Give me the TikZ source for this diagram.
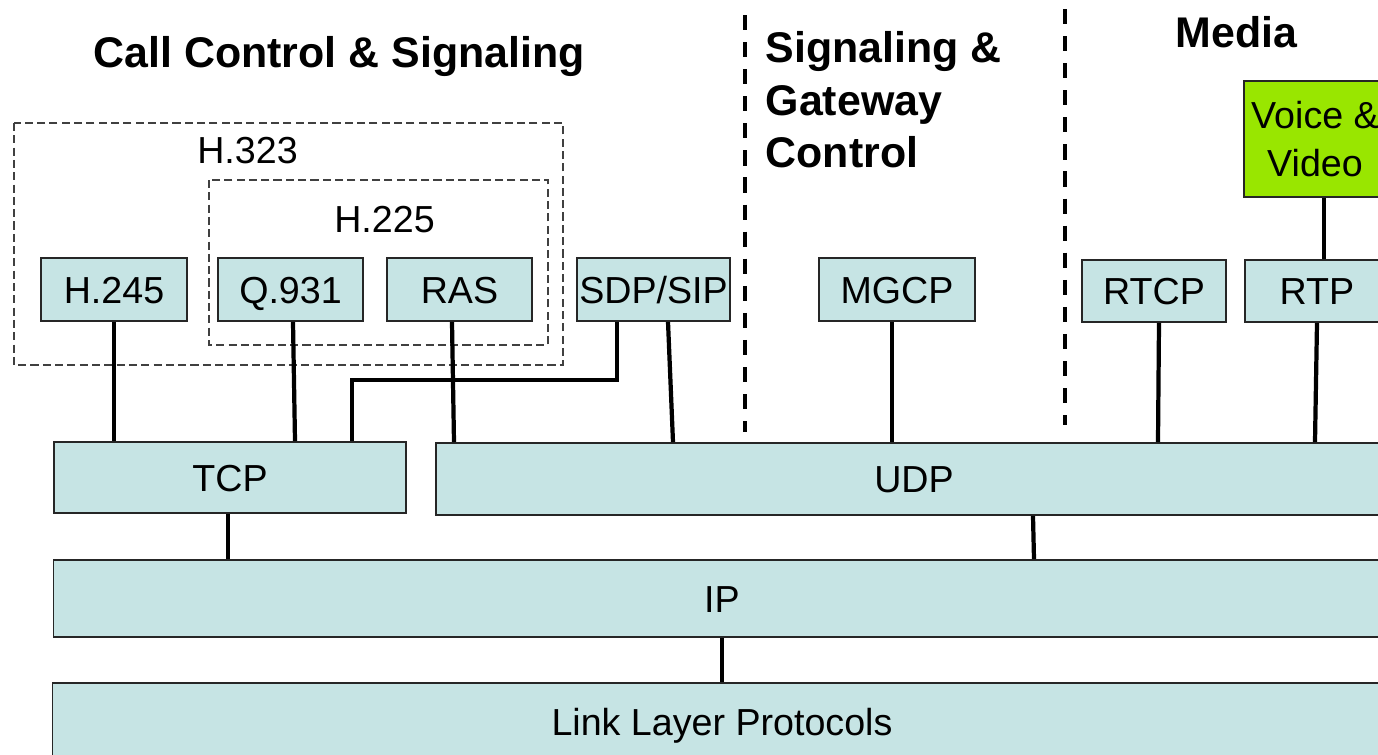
\documentclass[tikz,border=0pt]{standalone}
\usepackage{fontspec}
\setmainfont{Liberation Sans}
\usetikzlibrary{calc}
\definecolor{protofill}{RGB}{198,228,228}
\definecolor{mediagreen}{RGB}{153,230,0}
\tikzset{
  proto/.style={draw=black!85, fill=protofill, line width=0.5pt, inner sep=0pt,
    font=\fontsize{10.7}{12.8}\selectfont, text height=0.27cm, text depth=0cm},
  media/.style={draw=black!85, fill=mediagreen, line width=0.5pt, inner sep=0pt,
    font=\fontsize{10.7}{13.4}\selectfont, align=center},
  group/.style={draw=black!75, line width=0.45pt, dash pattern=on 2.3pt off 1.2pt},
  divider/.style={line width=1.1pt, dash pattern=on 4.3pt off 3.4pt},
  link/.style={line width=1.2pt},
  head/.style={font=\fontsize{12.2}{14.9}\selectfont\bfseries, inner sep=0pt, align=left},
  grouplabel/.style={font=\fontsize{10.7}{12.8}\selectfont, inner sep=0pt}
}

\begin{document}
\begin{tikzpicture}[x=0.01cm,y=-0.01cm]
\useasboundingbox (0,0) rectangle (1378,754);
\clip (0,0) rectangle (1378,754);

% groups and dividers
\draw[group] (14,123) rectangle (563,365);
\draw[group] (209,180) rectangle (548,345);
\node[grouplabel, anchor=base] (h323) at (247.5,163) {H.323};
\node[grouplabel, anchor=base] (h225) at (384.5,232) {H.225};
\draw[divider] (745,15) -- (745,432);
\draw[divider] (1065,9) -- (1065,425);

% headings
\node[head, anchor=base west] (callhead) at (93,67) {Call Control \& Signaling};
\node[head, anchor=north west] (gwhead) at (765,31) {Signaling \&\\Gateway\\Control};
\node[head, anchor=base west] (mediahead) at (1175,47) {Media};

% protocols
\node[proto, minimum width=1.46cm, minimum height=0.63cm] (h245) at (114,289.5) {H.245};
\node[proto, minimum width=1.45cm, minimum height=0.63cm] (q931) at (290.5,289.5) {Q.931};
\node[proto, minimum width=1.45cm, minimum height=0.63cm] (ras) at (459.5,289.5) {RAS};
\node[proto, minimum width=1.53cm, minimum height=0.63cm] (sdp) at (653.5,289.5) {SDP/SIP};
\node[proto, minimum width=1.56cm, minimum height=0.63cm] (mgcp) at (897,289.5) {MGCP};
\node[proto, minimum width=1.44cm, minimum height=0.62cm] (rtcp) at (1154,291) {RTCP};
\node[proto, minimum width=1.44cm, minimum height=0.62cm] (rtp) at (1317,291) {RTP};
\node[media, minimum width=1.42cm, minimum height=1.16cm] (av) at (1315,139) {Voice \&\\Video};

\node[proto, minimum width=3.52cm, minimum height=0.71cm] (tcp) at (230,477.5) {TCP};
\node[proto, minimum width=9.56cm, minimum height=0.72cm] (udp) at (914,479) {UDP};
\node[proto, minimum width=13.36cm, minimum height=0.77cm] (ip) at (722,598.5) {IP};
\node[proto, minimum width=13.38cm, minimum height=0.77cm] (linkl) at (722,721.5) {Link Layer Protocols};

% connectors
\coordinate (sdpbend) at (352,380);
\draw[link] (h245.south) -- (h245.south |- tcp.north);
\draw[link] ($(q931.south)+(2.5,0)$) -- ($(q931.south |- tcp.north)+(4.5,0)$);
\draw[link] ($(ras.south)+(-7.5,0)$) -- ($(ras.south |- udp.north)+(-5.5,0)$);
\draw[link] ($(sdp.south)+(-36.5,0)$) |- (sdpbend) -- (sdpbend |- tcp.north);
\draw[link] ($(sdp.south)+(14.5,0)$) -- ($(sdp.south |- udp.north)+(19.5,0)$);
\draw[link] ($(mgcp.south)+(-5,0)$) -- ($(mgcp.south |- udp.north)+(-5,0)$);
\draw[link] ($(rtcp.south)+(5,0)$) -- ($(rtcp.south |- udp.north)+(4,0)$);
\draw[link] (rtp.south) -- ($(rtp.south |- udp.north)+(-2,0)$);
\draw[link] ($(av.south)+(9,0)$) -- ($(av.south |- rtp.north)+(9,0)$);
\draw[link] ($(tcp.south)+(-2,0)$) -- ($(tcp.south |- ip.north)+(-2,0)$);
\draw[link] ($(udp.south)+(119,0)$) -- ($(udp.south |- ip.north)+(120,0)$);
\draw[link] (ip.south) -- (linkl.north);

\end{tikzpicture}
\end{document}
